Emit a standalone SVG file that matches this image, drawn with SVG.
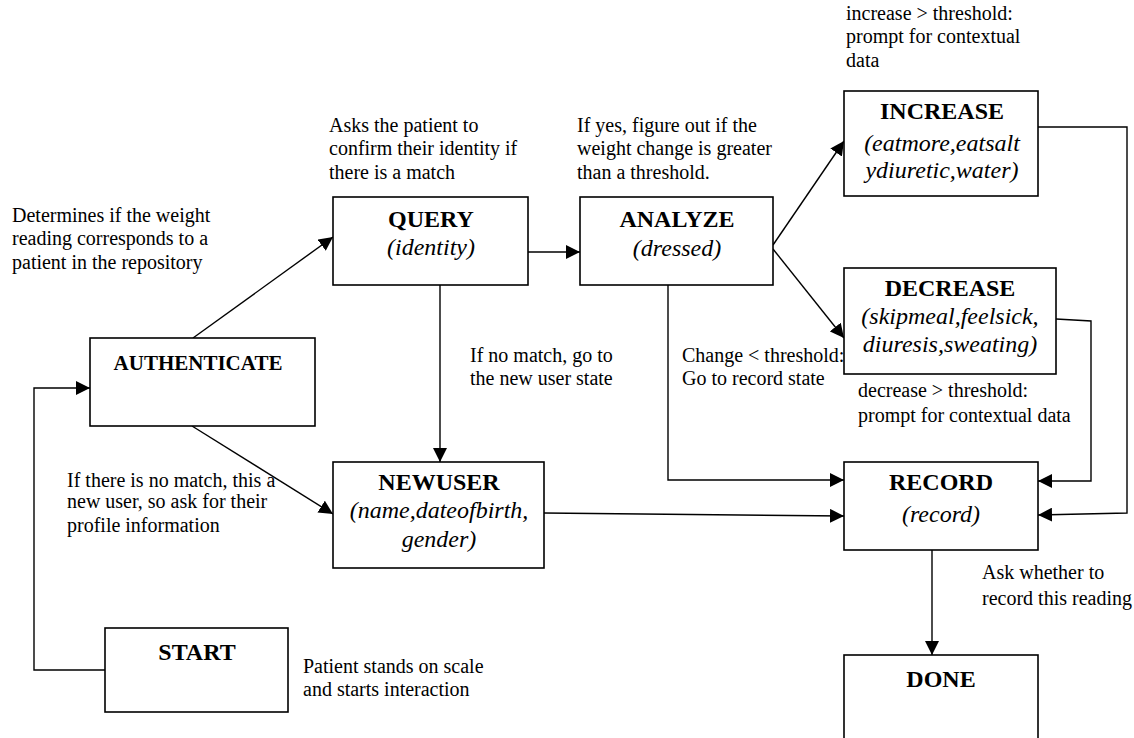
<svg xmlns="http://www.w3.org/2000/svg" width="1134" height="738" viewBox="0 0 1134 738">
<style>
.box{fill:#fff;stroke:#000;stroke-width:1.6}
.ln{fill:none;stroke:#000;stroke-width:1.4}
.t{font-family:"Liberation Serif","Times New Roman",serif;font-size:24px;font-weight:bold;text-anchor:middle;fill:#000}
.i{font-family:"Liberation Serif","Times New Roman",serif;font-size:24px;font-style:italic;text-anchor:middle;fill:#000}
.a{font-family:"Liberation Serif","Times New Roman",serif;font-size:20px;fill:#000}
</style>
<defs>
<marker id="arr" markerWidth="14" markerHeight="14" refX="14" refY="7" orient="auto" markerUnits="userSpaceOnUse">
<path d="M0,0 L14,7 L0,14 Z" fill="#000"/>
</marker>
</defs>
<rect width="1134" height="738" fill="#fff"/>
<g id="connectors">
<path class="ln" d="M105,670 H34 V388 H90" marker-end="url(#arr)"/>
<path class="ln" d="M193,338 L333,237" marker-end="url(#arr)"/>
<path class="ln" d="M192,426 L333,514" marker-end="url(#arr)"/>
<path class="ln" d="M528,252 H580" marker-end="url(#arr)"/>
<path class="ln" d="M440,285 V462" marker-end="url(#arr)"/>
<path class="ln" d="M773,245 L844,141" marker-end="url(#arr)"/>
<path class="ln" d="M773,249 L844,338" marker-end="url(#arr)"/>
<path class="ln" d="M668,285 V480 H844" marker-end="url(#arr)"/>
<path class="ln" d="M544,513 L844,516" marker-end="url(#arr)"/>
<path class="ln" d="M1056,319 L1091,321 V481 H1038" marker-end="url(#arr)"/>
<path class="ln" d="M1038,127 H1127 V513 L1038,515" marker-end="url(#arr)"/>
<path class="ln" d="M932,550 V655" marker-end="url(#arr)"/>
</g>
<g id="authenticate">
<rect class="box" x="90" y="338" width="225" height="88"/>
<text class="t" x="198" y="370" style="font-size:21px">AUTHENTICATE</text>
</g>
<g id="query">
<rect class="box" x="333" y="197" width="195" height="88"/>
<text class="t" x="431" y="227">QUERY</text>
<text class="i" x="431" y="255">(identity)</text>
</g>
<g id="analyze">
<rect class="box" x="580" y="197" width="193" height="88"/>
<text class="t" x="677" y="227">ANALYZE</text>
<text class="i" x="677" y="256">(dressed)</text>
</g>
<g id="increase">
<rect class="box" x="844" y="91" width="194" height="105"/>
<text class="t" x="942" y="119">INCREASE</text>
<text class="i" x="942" y="151">(eatmore,eatsalt</text>
<text class="i" x="942" y="178">ydiuretic,water)</text>
</g>
<g id="decrease">
<rect class="box" x="844" y="268" width="212" height="106"/>
<text class="t" x="950" y="296">DECREASE</text>
<text class="i" x="950" y="324">(skipmeal,feelsick,</text>
<text class="i" x="950" y="352">diuresis,sweating)</text>
</g>
<g id="newuser">
<rect class="box" x="333" y="462" width="211" height="106"/>
<text class="t" x="439" y="490">NEWUSER</text>
<text class="i" x="439" y="518">(name,dateofbirth,</text>
<text class="i" x="439" y="547">gender)</text>
</g>
<g id="record">
<rect class="box" x="844" y="462" width="194" height="88"/>
<text class="t" x="941" y="490">RECORD</text>
<text class="i" x="941" y="522">(record)</text>
</g>
<g id="done">
<rect class="box" x="844" y="655" width="194" height="95"/>
<text class="t" x="941" y="687">DONE</text>
</g>
<g id="start">
<rect class="box" x="105" y="628" width="183" height="84"/>
<text class="t" x="197" y="660">START</text>
</g>
<g id="annotations">
<text class="a" x="12" y="222">Determines if the weight</text>
<text class="a" x="12" y="245">reading corresponds to a</text>
<text class="a" x="12" y="269">patient in the repository</text>
<text class="a" x="329" y="132">Asks the patient to</text>
<text class="a" x="329" y="155">confirm their identity if</text>
<text class="a" x="329" y="179">there is a match</text>
<text class="a" x="577" y="132">If yes, figure out if the</text>
<text class="a" x="577" y="155">weight change is greater</text>
<text class="a" x="577" y="179">than a threshold.</text>
<text class="a" x="846" y="20">increase &gt; threshold:</text>
<text class="a" x="846" y="43">prompt for contextual</text>
<text class="a" x="846" y="67">data</text>
<text class="a" x="470" y="362">If no match, go to</text>
<text class="a" x="470" y="385">the new user state</text>
<text class="a" x="682" y="362">Change &lt; threshold:</text>
<text class="a" x="682" y="385">Go to record state</text>
<text class="a" x="858" y="397">decrease &gt; threshold:</text>
<text class="a" x="858" y="422">prompt for contextual data</text>
<text class="a" x="67" y="487">If there is no match, this a</text>
<text class="a" x="67" y="508">new user, so ask for their</text>
<text class="a" x="67" y="532">profile information</text>
<text class="a" x="303" y="673">Patient stands on scale</text>
<text class="a" x="303" y="696">and starts interaction</text>
<text class="a" x="982" y="579">Ask whether to</text>
<text class="a" x="982" y="605">record this reading</text>
</g>
</svg>
